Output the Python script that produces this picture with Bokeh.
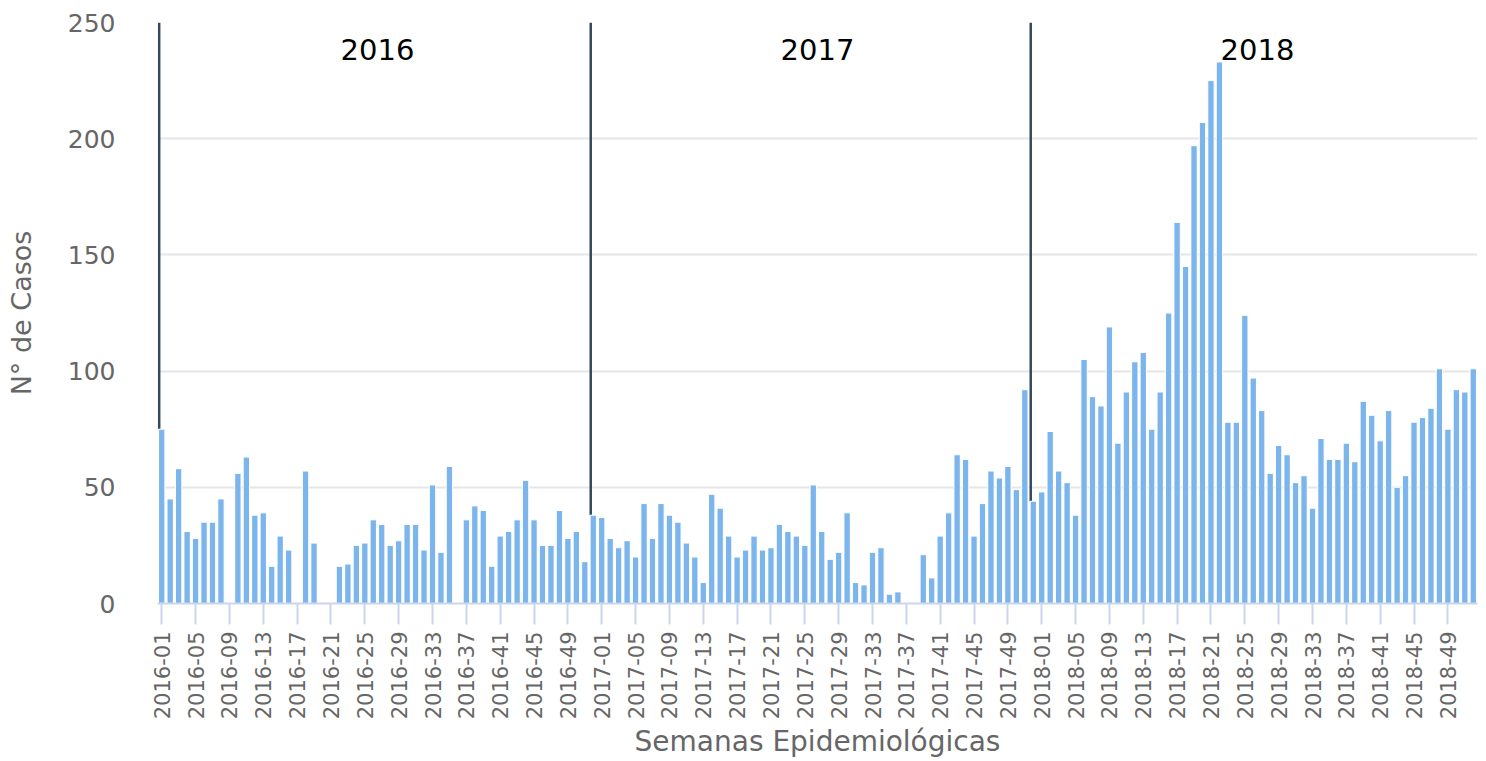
import math
from bokeh.plotting import figure
from bokeh.models import Range1d, FixedTicker, ColumnDataSource
from bokeh.embed import file_html
from bokeh.resources import INLINE
from bokeh.core.properties import value

years = ["2016", "2017", "2018"]
weeks = [f"{w:02d}" for w in range(1, 53)]

cases_2016 = [75, 45, 58, 31, 28, 35, 35, 45, 0, 56, 63, 38, 39, 16, 29, 23,
              0, 57, 26, 0, 0, 16, 17, 25, 26, 36, 34, 25, 27, 34, 34, 23,
              51, 22, 59, 0, 36, 42, 40, 16, 29, 31, 36, 53, 36, 25, 25, 40,
              28, 31, 18, 38]
cases_2017 = [37, 28, 24, 27, 20, 43, 28, 43, 38, 35, 26, 20, 9, 47, 41, 29,
              20, 23, 29, 23, 24, 34, 31, 29, 25, 51, 31, 19, 22, 39, 9, 8,
              22, 24, 4, 5, 0, 0, 21, 11, 29, 39, 64, 62, 29, 43, 57, 54,
              59, 49, 92, 44]
cases_2018 = [48, 74, 57, 52, 38, 105, 89, 85, 119, 69, 91, 104, 108, 75, 91, 125,
              164, 145, 197, 207, 225, 233, 78, 78, 124, 97, 83, 56, 68, 64, 52, 55,
              41, 71, 62, 62, 69, 61, 87, 81, 70, 83, 50, 55, 78, 80, 84, 101,
              75, 92, 91, 101]

y_ticks = [0, 50, 100, 150, 200, 250]
tick_every = 4

categories = [f"{y}-{w}" for y in years for w in weeks]
cases = cases_2016 + cases_2017 + cases_2018
idx = list(range(len(categories)))
n_year = len(weeks)

BAR_COLOR = "#7cb5ec"
GRAY = "#666666"
YMAX = 250

p = figure(width=1486, height=761,
           x_range=Range1d(-0.5, len(categories) - 0.5),
           y_range=Range1d(0, YMAX),
           output_backend="svg", toolbar_location=None,
           min_border_left=157, min_border_right=9,
           min_border_top=22, min_border_bottom=157)
p.outline_line_color = None
p.background_fill_color = "white"
p.border_fill_color = "white"

# year separator lines (from bar top to plot top)
sep_idx = [0, n_year - 1, 2 * n_year - 1]
p.segment(x0=[i - 0.3 for i in sep_idx], y0=[cases[i] for i in sep_idx],
          x1=[i - 0.3 for i in sep_idx], y1=[YMAX] * len(sep_idx),
          line_color="#34495e", line_width=2.5)

src = ColumnDataSource(dict(x=idx, top=cases, cat=categories))
p.vbar(x="x", top="top", width=0.75, bottom=0, source=src,
       fill_color=BAR_COLOR, line_color="white", line_width=1)

# year labels centred on each year's range
centers = [k * n_year + (n_year - 1) / 2 for k in range(len(years))]
p.text(x=centers, y=[238.5] * len(years), text=years,
       text_font=value("DejaVu Sans"), text_font_size="29px",
       text_color="#000000", text_align="center", text_baseline="alphabetic")

# x axis
xt = list(range(0, len(categories), tick_every))
p.xaxis.ticker = FixedTicker(ticks=xt)
p.xaxis.major_label_overrides = {i: categories[i] for i in xt}
p.xaxis.major_label_orientation = math.pi / 2
p.xaxis.major_label_text_font = "DejaVu Sans"
p.xaxis.major_label_text_font_size = "21px"
p.xaxis.major_label_text_color = GRAY
p.xaxis.major_label_standoff = 7
p.xaxis.major_tick_out = 21
p.xaxis.major_tick_in = 0
p.xaxis.major_tick_line_color = "#ccd6eb"
p.xaxis.major_tick_line_width = 2
p.xaxis.minor_tick_line_color = None
p.xaxis.axis_line_color = "#ccd6eb"
p.xaxis.axis_line_width = 2
p.xaxis.axis_label = "Semanas Epidemiológicas"
p.xaxis.axis_label_text_font = "DejaVu Sans"
p.xaxis.axis_label_text_font_size = "28px"
p.xaxis.axis_label_text_font_style = "normal"
p.xaxis.axis_label_text_color = GRAY
p.xaxis.axis_label_standoff = 3

# y axis
p.yaxis.ticker = FixedTicker(ticks=y_ticks)
p.yaxis.major_label_text_font = "DejaVu Sans"
p.yaxis.major_label_text_font_size = "25px"
p.yaxis.major_label_text_color = GRAY
p.yaxis.major_tick_line_color = None
p.yaxis.major_tick_out = 0
p.yaxis.major_tick_in = 0
p.yaxis.minor_tick_line_color = None
p.yaxis.axis_line_color = None
p.yaxis.major_label_standoff = 42
p.yaxis.axis_label = "N° de Casos"
p.yaxis.axis_label_text_font = "DejaVu Sans"
p.yaxis.axis_label_text_font_size = "27px"
p.yaxis.axis_label_text_font_style = "normal"
p.yaxis.axis_label_text_color = GRAY
p.yaxis.axis_label_standoff = 28

p.xgrid.grid_line_color = None
p.ygrid.grid_line_color = "#e6e6e6"
p.ygrid.grid_line_width = 2

open("out.html", "w").write(file_html(p, INLINE))
